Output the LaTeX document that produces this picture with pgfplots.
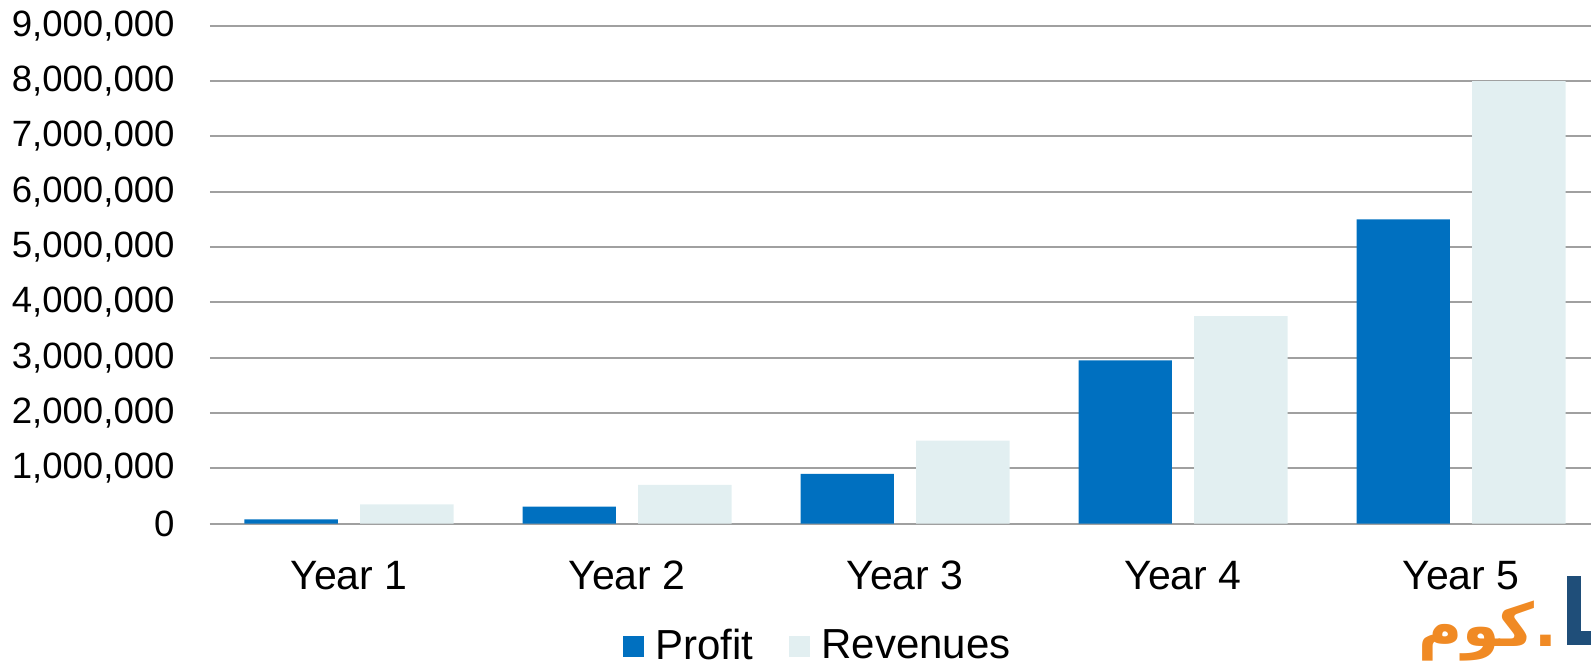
\documentclass[border=0pt]{standalone}
\usepackage{pgfplots}
\pgfplotsset{compat=1.18}
\usepackage{fontspec}
\setmainfont{Liberation Sans}
\newfontfamily\arabicfont[Script=Arabic]{DejaVu Sans}
\TeXXeTstate=1
\definecolor{profit}{HTML}{0070C0}
\definecolor{rev}{HTML}{E2EFF1}
\definecolor{gridc}{HTML}{A0A0A0}
\definecolor{wmorange}{HTML}{F08A24}
\definecolor{wmblue}{HTML}{1F4E79}
\begin{document}
\begin{tikzpicture}
\path[use as bounding box] (0,0) rectangle (795.5pt,333pt);
\begin{axis}[
  at={(105pt,71.15pt)}, anchor=south west,
  scale only axis, width=690.5pt, height=249pt,
  xmin=-0.5, xmax=4.4676, ymin=0, ymax=9000000,
  xtick={0,1,2,3,4},
  xticklabels={Year 1,Year 2,Year 3,Year 4,Year 5},
  ytick={0,1000000,2000000,3000000,4000000,5000000,6000000,7000000,8000000,9000000},
  scaled y ticks=false,
  /pgf/number format/.cd, fixed, 1000 sep={,}, assume math mode=true,
  /pgfplots/.cd,
  yticklabel style={font=\fontsize{18.3pt}{21pt}\selectfont, inner sep=0pt, xshift=-17.5pt},
  xticklabel style={font=\fontsize{20.5pt}{24pt}\selectfont, inner sep=0pt, yshift=-18.5pt, anchor=north},
  ymajorgrids, grid style={gridc, line width=1pt},
  axis x line*=bottom, axis y line*=left,
  y axis line style={draw=none},
  x axis line style={gridc, line width=1pt},
  major tick length=0pt, tick style={draw=none},
  legend style={at={(0.4395,-0.2456)}, anchor=center, draw=none, fill=none,
    legend columns=2, font=\fontsize{21pt}{25pt}\selectfont,
    nodes={inner sep=0pt},
    /tikz/every odd column/.append style={column sep=5.6pt},
    /tikz/every even column/.append style={column sep=18pt}},
  legend image code/.code={\fill[#1] (0pt,-5.25pt) rectangle (10.5pt,5.25pt);},
]
\addplot[ybar, bar width=46.7pt, bar shift=-28.9pt, fill=profit, draw=none]
  coordinates {(0,80000) (1,310000) (2,900000) (3,2950000) (4,5500000)};
\addplot[ybar, bar width=46.7pt, bar shift=28.9pt, fill=rev, draw=none]
  coordinates {(0,350000) (1,700000) (2,1500000) (3,3750000) (4,8000000)};
\legend{Profit,Revenues}
\end{axis}
\node[anchor=south east, inner sep=0pt, text=wmorange, font=\fontsize{30pt}{34pt}\selectfont\bfseries] at (779pt,2pt) {\arabicfont\beginR .كوم\endR};
\draw[wmblue, line width=7pt] (787pt,45pt) -- (787pt,14pt) -- (796pt,14pt);
\end{tikzpicture}
\end{document}
